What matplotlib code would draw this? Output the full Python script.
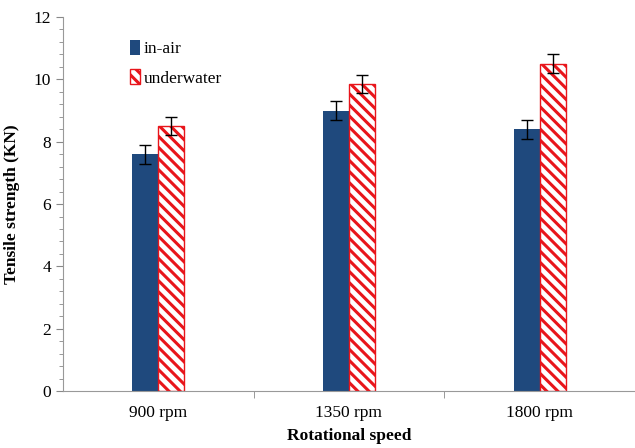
import matplotlib
matplotlib.use("Agg")
import matplotlib.pyplot as plt
import numpy as np
from matplotlib.ticker import MultipleLocator, FixedLocator

categories = ["900 rpm", "1350 rpm", "1800 rpm"]
in_air = [7.6, 9.0, 8.4]
in_air_err = [0.3, 0.3, 0.3]
underwater = [8.5, 9.85, 10.5]
underwater_err = [0.3, 0.3, 0.3]

plt.rcParams['font.family'] = ['Liberation Serif', 'DejaVu Serif']
plt.rcParams['hatch.linewidth'] = 2.2
plt.rcParams['hatch.color'] = '#E8151B'

fig = plt.figure(figsize=(6.35, 4.48), dpi=100)
ax = fig.add_axes([0.099, 0.127, 0.901, 0.835])

x = np.arange(len(categories))
w = 0.137
ax.bar(x - w/2, in_air, w, color='#1F497D', label='in-air',
       yerr=in_air_err, capsize=4, error_kw=dict(ecolor='black', elinewidth=1, capthick=1))
ax.bar(x + w/2, underwater, w, facecolor='white', edgecolor='#E8151B', hatch='\\\\\\',
       linewidth=1, label='underwater',
       yerr=underwater_err, capsize=4, error_kw=dict(ecolor='black', elinewidth=1, capthick=1))

ax.set_xlim(-0.5, 2.5)
ax.set_ylim(0, 12)
ax.set_xticks(x)
ax.set_xticklabels(categories, fontsize=12.5)
ax.tick_params(axis='x', which='major', length=0, pad=10)
ax.xaxis.set_minor_locator(FixedLocator([0.5, 1.5]))
ax.tick_params(axis='x', which='minor', length=5, color='#888888', direction='out')
ax.yaxis.set_major_locator(MultipleLocator(2))
ax.yaxis.set_minor_locator(MultipleLocator(0.4))
ax.tick_params(axis='y', which='major', labelsize=12.5, length=5, color='#888888')
ax.tick_params(axis='y', which='minor', length=3, color='#888888')

for s in ['top', 'right']:
    ax.spines[s].set_visible(False)
for s in ['left', 'bottom']:
    ax.spines[s].set_color('#999999')

ax.set_xlabel('Rotational speed', fontsize=12.5, fontweight='bold', labelpad=5)
ax.set_ylabel('Tensile strength (KN)', fontsize=12.5, fontweight='bold', labelpad=10)

ax.legend(loc='upper left', bbox_to_anchor=(0.09, 0.98), frameon=False, fontsize=12.5,
          handlelength=0.6, handleheight=0.9, handletextpad=0.2, labelspacing=0.7)

fig.savefig('out.png', dpi=100)
